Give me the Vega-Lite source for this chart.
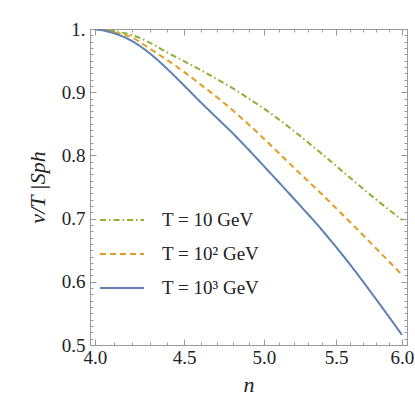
{
  "$schema": "https://vega.github.io/schema/vega-lite/v6.json",
  "width": 317,
  "height": 316,
  "autosize": "none",
  "padding": {"left": 90, "top": 29, "right": 8, "bottom": 72},
  "background": "white",
  "config": {
    "font": "serif",
    "view": {"stroke": "#999999", "strokeWidth": 1},
    "axis": {"grid": false, "domain": false, "tickColor": "#999999", "labelColor": "#222222", "titleColor": "#222222", "titleFontWeight": "normal"},
    "legend": {"labelColor": "#222222"}
  },
  "data": {
    "values": [
      {"n": 4.0, "v": 1.0, "T": "T = 10 GeV"},
      {"n": 4.1, "v": 0.997, "T": "T = 10 GeV"},
      {"n": 4.2, "v": 0.9905, "T": "T = 10 GeV"},
      {"n": 4.3, "v": 0.9785, "T": "T = 10 GeV"},
      {"n": 4.4, "v": 0.963, "T": "T = 10 GeV"},
      {"n": 4.5, "v": 0.949, "T": "T = 10 GeV"},
      {"n": 4.6, "v": 0.935, "T": "T = 10 GeV"},
      {"n": 4.7, "v": 0.9205, "T": "T = 10 GeV"},
      {"n": 4.8, "v": 0.906, "T": "T = 10 GeV"},
      {"n": 4.9, "v": 0.890, "T": "T = 10 GeV"},
      {"n": 5.0, "v": 0.874, "T": "T = 10 GeV"},
      {"n": 5.2, "v": 0.839, "T": "T = 10 GeV"},
      {"n": 5.4, "v": 0.802, "T": "T = 10 GeV"},
      {"n": 5.6, "v": 0.765, "T": "T = 10 GeV"},
      {"n": 5.8, "v": 0.730, "T": "T = 10 GeV"},
      {"n": 6.0, "v": 0.698, "T": "T = 10 GeV"},
      {"n": 4.0, "v": 1.0, "T": "T = 10² GeV"},
      {"n": 4.1, "v": 0.995, "T": "T = 10² GeV"},
      {"n": 4.2, "v": 0.9866, "T": "T = 10² GeV"},
      {"n": 4.3, "v": 0.969, "T": "T = 10² GeV"},
      {"n": 4.4, "v": 0.951, "T": "T = 10² GeV"},
      {"n": 4.5, "v": 0.932, "T": "T = 10² GeV"},
      {"n": 4.6, "v": 0.912, "T": "T = 10² GeV"},
      {"n": 4.7, "v": 0.892, "T": "T = 10² GeV"},
      {"n": 4.8, "v": 0.871, "T": "T = 10² GeV"},
      {"n": 4.9, "v": 0.849, "T": "T = 10² GeV"},
      {"n": 5.0, "v": 0.8265, "T": "T = 10² GeV"},
      {"n": 5.2, "v": 0.781, "T": "T = 10² GeV"},
      {"n": 5.4, "v": 0.738, "T": "T = 10² GeV"},
      {"n": 5.6, "v": 0.695, "T": "T = 10² GeV"},
      {"n": 5.8, "v": 0.6525, "T": "T = 10² GeV"},
      {"n": 6.0, "v": 0.611, "T": "T = 10² GeV"},
      {"n": 4.0, "v": 1.0, "T": "T = 10³ GeV"},
      {"n": 4.1, "v": 0.9935, "T": "T = 10³ GeV"},
      {"n": 4.2, "v": 0.981, "T": "T = 10³ GeV"},
      {"n": 4.3, "v": 0.9615, "T": "T = 10³ GeV"},
      {"n": 4.4, "v": 0.937, "T": "T = 10³ GeV"},
      {"n": 4.5, "v": 0.9105, "T": "T = 10³ GeV"},
      {"n": 4.6, "v": 0.884, "T": "T = 10³ GeV"},
      {"n": 4.7, "v": 0.859, "T": "T = 10³ GeV"},
      {"n": 4.8, "v": 0.8346, "T": "T = 10³ GeV"},
      {"n": 4.9, "v": 0.809, "T": "T = 10³ GeV"},
      {"n": 5.0, "v": 0.783, "T": "T = 10³ GeV"},
      {"n": 5.2, "v": 0.732, "T": "T = 10³ GeV"},
      {"n": 5.4, "v": 0.6815, "T": "T = 10³ GeV"},
      {"n": 5.6, "v": 0.628, "T": "T = 10³ GeV"},
      {"n": 5.8, "v": 0.572, "T": "T = 10³ GeV"},
      {"n": 6.0, "v": 0.516, "T": "T = 10³ GeV"}
    ]
  },
  "layer": [
    {
      "mark": {"type": "point", "opacity": 0},
      "encoding": {
        "x": {"field": "n", "type": "quantitative", "scale": {"type": "log", "domain": [3.974, 6.04], "nice": false, "zero": false},
          "axis": {"orient": "bottom", "values": [4.1, 4.2, 4.3, 4.4, 4.6, 4.7, 4.8, 4.9, 5.1, 5.2, 5.3, 5.4, 5.6, 5.7, 5.8, 5.9], "labels": false, "tickSize": -3, "title": null}},
        "y": {"field": "v", "type": "quantitative",
          "axis": {"orient": "left", "values": [0.51,0.52,0.53,0.54,0.55,0.56,0.57,0.58,0.59,0.61,0.62,0.63,0.64,0.65,0.66,0.67,0.68,0.69,0.71,0.72,0.73,0.74,0.75,0.76,0.77,0.78,0.79,0.81,0.82,0.83,0.84,0.85,0.86,0.87,0.88,0.89,0.91,0.92,0.93,0.94,0.95,0.96,0.97,0.98,0.99], "labels": false, "tickSize": -3, "title": null}}
      }
    },
    {
      "mark": {"type": "point", "opacity": 0},
      "encoding": {
        "x": {"field": "n", "type": "quantitative",
          "axis": {"orient": "top", "values": [4.1, 4.2, 4.3, 4.4, 4.6, 4.7, 4.8, 4.9, 5.1, 5.2, 5.3, 5.4, 5.6, 5.7, 5.8, 5.9], "labels": false, "tickSize": -3, "title": null}},
        "y": {"field": "v", "type": "quantitative",
          "axis": {"orient": "right", "values": [0.51,0.52,0.53,0.54,0.55,0.56,0.57,0.58,0.59,0.61,0.62,0.63,0.64,0.65,0.66,0.67,0.68,0.69,0.71,0.72,0.73,0.74,0.75,0.76,0.77,0.78,0.79,0.81,0.82,0.83,0.84,0.85,0.86,0.87,0.88,0.89,0.91,0.92,0.93,0.94,0.95,0.96,0.97,0.98,0.99], "labels": false, "tickSize": -3, "title": null}}
      }
    },
    {
      "mark": {"type": "point", "opacity": 0},
      "encoding": {
        "x": {"field": "n", "type": "quantitative",
          "axis": {"orient": "top", "values": [4.0, 4.5, 5.0, 5.5, 6.0], "labels": false, "tickSize": -6, "title": null}},
        "y": {"field": "v", "type": "quantitative",
          "axis": {"orient": "right", "values": [0.5, 0.6, 0.7, 0.8, 0.9, 1.0], "labels": false, "tickSize": -6, "title": null}}
      }
    },
    {
      "mark": {"type": "line", "strokeWidth": 2, "clip": true, "interpolate": "monotone"},
      "encoding": {
        "x": {"field": "n", "type": "quantitative",
          "axis": {"orient": "bottom", "values": [4.0, 4.5, 5.0, 5.5, 6.0], "labelExpr": "format(datum.value, '.1f')", "labelFont": "'Liberation Serif'", "labelFontSize": 19, "tickSize": -6, "labelPadding": 9, "title": "n", "titleFont": "'Liberation Serif'", "titleFontStyle": "italic", "titleFontSize": 22, "titlePadding": 7}},
        "y": {"field": "v", "type": "quantitative", "scale": {"domain": [0.5, 1.0], "nice": false, "zero": false},
          "axis": {"orient": "left", "values": [0.5, 0.6, 0.7, 0.8, 0.9, 1.0], "labelExpr": "datum.value == 1 ? '1.' : format(datum.value, '.1f')", "labelFont": "serif", "labelFontSize": 19, "tickSize": -6, "labelPadding": 11, "title": "v/T |Sph", "titleFont": "serif", "titleFontStyle": "italic", "titleFontSize": 22, "titlePadding": 12}},
        "color": {"field": "T", "type": "nominal",
          "scale": {"domain": ["T = 10 GeV", "T = 10² GeV", "T = 10³ GeV"], "range": ["#8fb032", "#e19c24", "#5e81b5"]},
          "legend": {"orient": "none", "legendX": 9, "legendY": 168, "title": null, "symbolType": "stroke", "symbolSize": 1936, "symbolStrokeWidth": 2, "labelOffset": 17, "labelFont": "Times New Roman", "labelFontSize": 19, "rowPadding": 1, "padding": 0}},
        "strokeDash": {"field": "T", "type": "nominal",
          "scale": {"domain": ["T = 10 GeV", "T = 10² GeV", "T = 10³ GeV"], "range": [[6, 3, 1.5, 3], [6, 4], [1, 0]]},
          "legend": {"orient": "none", "legendX": 9, "legendY": 168, "title": null, "symbolType": "stroke", "symbolSize": 1936, "symbolStrokeWidth": 2, "labelOffset": 17, "labelFont": "Times New Roman", "labelFontSize": 19, "rowPadding": 1, "padding": 0}}
      }
    }
  ],
  "resolve": {"axis": {"x": "independent", "y": "independent"}}
}
